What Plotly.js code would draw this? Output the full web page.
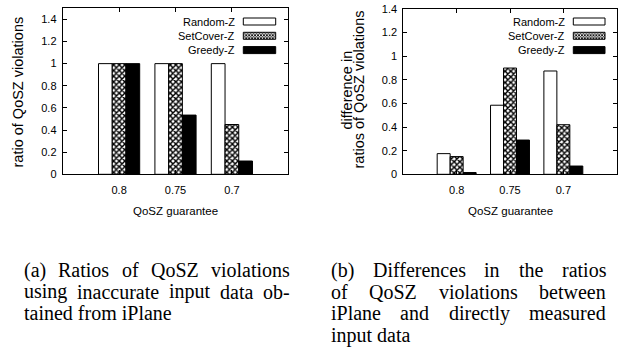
<!DOCTYPE html>
<html>
<head>
<meta charset="utf-8">
<script src="https://cdn.plot.ly/plotly-3.0.1.min.js"></script>
<style>html,body{margin:0;padding:0;background:#fff;}</style>
</head>
<body>
<div id="chart" style="width:621px;height:354px;"></div>
<script>
const categories = ['0.8', '0.75', '0.7'];
const seriesNames = ['Random-Z', 'SetCover-Z', 'Greedy-Z'];
// (a) ratios of QoSZ violations
const ratioRandom = [1.0, 1.0, 1.0];
const ratioSetCover = [1.0, 1.0, 0.45];
const ratioGreedy = [1.0, 0.535, 0.12];
// (b) differences in ratios
const diffRandom = [0.175, 0.585, 0.875];
const diffSetCover = [0.15, 0.9, 0.42];
const diffGreedy = [0.015, 0.29, 0.07];
// texts
const yTitleA = ['ratio of QoSZ violations'];
const yTitleB = ['difference in', 'ratios of QoSZ violations'];
const xTitle = 'QoSZ guarantee';
const captionA = [['(a) Ratios of QoSZ violations', true], ['using inaccurate input data ob-', true], ['tained from iPlane', false]];
const captionB = [['(b) Differences in the ratios', true], ['of QoSZ violations between', true], ['iPlane and directly measured', true], ['input data', false]];

const W = 621, H = 354;
const px = v => v / W;
const py = v => 1 - v / H;

const SANS = 'Liberation Sans, Arial, sans-serif';
const SERIF = 'Liberation Serif, Times New Roman, serif';

const patternSpec = {shape: 'x', fgcolor: '#000', bgcolor: '#fff', size: 4, solidity: 0.6};
const styles = [
  {color: '#ffffff', line: {color: '#000', width: 1}},
  {color: '#ffffff', line: {color: '#000', width: 1}, pattern: patternSpec},
  {color: '#000000', line: {color: '#000', width: 1}}
];

function mk(vals, i, xa, ya) {
  return {type: 'bar', x: categories, y: vals, name: seriesNames[i],
    xaxis: xa, yaxis: ya, showlegend: false, marker: styles[i], hoverinfo: 'x+y'};
}

const data = [
  mk(ratioRandom, 0, 'x', 'y'),
  mk(ratioSetCover, 1, 'x', 'y'),
  mk(ratioGreedy, 2, 'x', 'y'),
  mk(diffRandom, 0, 'x2', 'y2'),
  mk(diffSetCover, 1, 'x2', 'y2'),
  mk(diffGreedy, 2, 'x2', 'y2')
];

const axisFont = {family: SANS, size: 11, color: '#000'};
const baseX = {type: 'category', range: [-1, 3], showline: true, mirror: 'allticks',
  linecolor: '#000', linewidth: 1, ticks: 'inside', ticklen: 4, tickcolor: '#000',
  showgrid: false, zeroline: false, tickfont: axisFont, fixedrange: true, ticklabelstandoff: 5};
const baseY = {showline: true, mirror: 'allticks', linecolor: '#000', linewidth: 1,
  ticks: 'inside', ticklen: 4, tickcolor: '#000', showgrid: false, zeroline: false,
  tickfont: axisFont, dtick: 0.2, tickformat: '~g', fixedrange: true, ticklabelstandoff: 3};

const annotations = [];
const shapes = [];
const images = [];

function txt(text, x, y, opts) {
  annotations.push(Object.assign({xref: 'paper', yref: 'paper', x: px(x), y: py(y),
    xanchor: 'center', yanchor: 'middle', showarrow: false, text: text,
    font: {family: SANS, size: 11.5, color: '#000'}}, opts || {}));
}
const yFont = {family: SANS, size: 14.5, color: '#000'};
txt(yTitleA[0], 17, 92.5, {textangle: -90, font: yFont, borderpad: 0});
txt(yTitleB[0], 346.5, 90, {textangle: -90, font: yFont, borderpad: 0});
txt(yTitleB[1], 358.5, 90, {textangle: -90, font: yFont, borderpad: 0});
txt(xTitle, 175.5, 211);
txt(xTitle, 510, 211);

// legends (text right-aligned, swatch to the right, as in the original)
const patSvg = "<svg xmlns='http://www.w3.org/2000/svg' width='33' height='7'>" +
  "<defs><pattern id='p' width='3' height='3' patternUnits='userSpaceOnUse'>" +
  "<rect width='3' height='3' fill='white'/><path d='M0,0L3,3M3,0L0,3' stroke='black' stroke-width='0.9'/></pattern></defs>" +
  "<rect x='0' y='0' width='33' height='7' fill='url(#p)'/></svg>";
const patUri = 'data:image/svg+xml;utf8,' + encodeURIComponent(patSvg);

function legend(textRight, boxL, boxR) {
  const rows = [21.5, 35.8, 50.1];
  seriesNames.forEach((nm, i) => {
    txt(nm, textRight, rows[i], {xanchor: 'right', font: {family: SANS, size: 11, color: '#000'}});
    if (i === 1) {
      images.push({source: patUri, xref: 'paper', yref: 'paper', x: px(boxL), y: py(rows[i] - 3.5),
        sizex: px(boxR) - px(boxL), sizey: 7 / H, xanchor: 'left', yanchor: 'top', sizing: 'stretch', layer: 'above'});
    }
    shapes.push({type: 'rect', xref: 'paper', yref: 'paper', x0: px(boxL), x1: px(boxR),
      y0: py(rows[i] - 3.5), y1: py(rows[i] + 3.5),
      fillcolor: i === 0 ? '#fff' : (i === 2 ? '#000' : 'rgba(0,0,0,0)'),
      line: {color: '#000', width: 1}, layer: 'above'});
  });
}
legend(237.3, 243.3, 275.7);
legend(566.7, 573.3, 605);

// captions, justified lines built from measured word widths
const capSize = 20;
const ctx = document.createElement('canvas').getContext('2d');
ctx.font = capSize + 'px "Liberation Serif"';
function caption(lines, x0, x1, yStart, step) {
  lines.forEach(([line, just], k) => {
    const y = yStart + k * step;
    const capFont = {family: SERIF, size: capSize, color: '#000'};
    if (!just) {
      annotations.push({xref: 'paper', yref: 'paper', x: px(x0), y: py(y), xanchor: 'left', yanchor: 'middle',
        showarrow: false, text: line, font: capFont, borderpad: 0});
      return;
    }
    const words = line.split(' ');
    const widths = words.map(w => ctx.measureText(w).width);
    const total = widths.reduce((a, b) => a + b, 0);
    const gap = (x1 - x0 - total) / (words.length - 1);
    let x = x0;
    words.forEach((w, i) => {
      annotations.push({xref: 'paper', yref: 'paper', x: px(x), y: py(y), xanchor: 'left', yanchor: 'middle',
        showarrow: false, text: w, font: capFont, borderpad: 0});
      x += widths[i] + gap;
    });
  });
}
caption(captionA, 22.7, 288.5, 270, 21.7);
caption(captionB, 330, 605, 270, 21.7);

const layout = {
  width: W, height: H,
  margin: {l: 0, r: 0, t: 0, b: 0},
  paper_bgcolor: '#fff', plot_bgcolor: '#fff',
  barmode: 'group', bargap: 0.27, bargroupgap: 0,
  showlegend: false,
  xaxis: Object.assign({}, baseX, {domain: [px(62.7), px(288.3)], anchor: 'y'}),
  yaxis: Object.assign({}, baseY, {domain: [py(174.3), py(8.3)], range: [0, 1.5], anchor: 'x'}),
  xaxis2: Object.assign({}, baseX, {domain: [px(403.3), px(616.7)], anchor: 'y2'}),
  yaxis2: Object.assign({}, baseY, {domain: [py(174.3), py(9)], range: [0, 1.4], anchor: 'x2'}),
  annotations: annotations,
  shapes: shapes,
  images: images
};

Plotly.newPlot('chart', data, layout, {displayModeBar: false});
</script>
</body>
</html>
